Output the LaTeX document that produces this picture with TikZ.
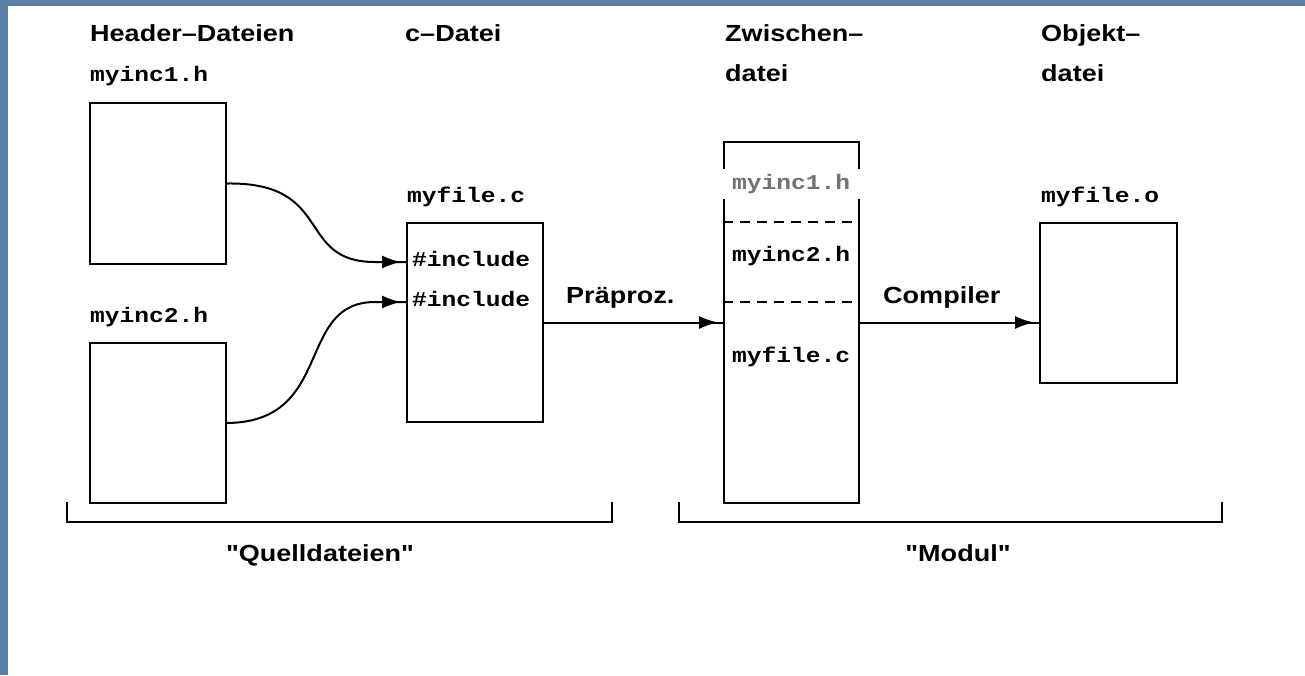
\documentclass[tikz,border=0pt]{standalone}
\usepackage{fontspec}
\setmainfont{Liberation Sans}[FakeStretch=1.16, Ligatures=TeXOff]
\newfontfamily\codefont{Liberation Mono}[FakeStretch=1.17]
\usetikzlibrary{arrows.meta,decorations.markings}
\definecolor{slideblue}{HTML}{5A7FA8}

\begin{document}
\begin{tikzpicture}[x=1pt,y=-1pt,
  box/.style={draw, line width=2pt, anchor=north west, inner sep=0pt},
  title/.style={anchor=base west, inner sep=0pt, font=\fontsize{23.3}{28}\selectfont\bfseries},
  code/.style={anchor=base west, inner sep=0pt, font=\fontsize{21}{25}\selectfont\codefont\bfseries},
  bracket/.style={line width=2pt},
  conn/.style={line width=2pt, postaction={decorate},
    decoration={markings, mark=at position -5pt with {\arrow{Latex[length=19pt,width=13pt]}}}},
  divider/.style={line width=1.8pt, dash pattern=on 10pt off 7pt}
]
\useasboundingbox (0,0) rectangle (1305,675);
% slide frame and white page
\fill[slideblue] (0,0) rectangle (1305,675);
\fill[white] (8,6) rectangle (1305,675);

% column headings
\node[title] (hHeader) at (90,41.7) {Header–Dateien};
\node[title] (hC) at (405,41.7) {c–Datei};
\node[title] (hZw1) at (725,41.7) {Zwischen–};
\node[title] (hZw2) at (725,81.7) {datei};
\node[title] (hObj1) at (1041,41.7) {Objekt–};
\node[title] (hObj2) at (1041,81.7) {datei};

% file boxes
\node[box, minimum width=136pt, minimum height=161pt] (h1) at (89,102) {};
\node[box, minimum width=136pt, minimum height=160pt] (h2) at (89,342) {};
\node[box, minimum width=136pt, minimum height=199pt] (cfile) at (406,222) {};
\node[box, minimum width=135pt, minimum height=361pt] (zw) at (723,141) {};
\node[box, minimum width=137pt, minimum height=160pt] (obj) at (1039,222) {};

% file names
\node[code] (n1) at (90,81.7) {myinc1.h};
\node[code] (n2) at (90,322.3) {myinc2.h};
\node[code] (nc) at (407,202.7) {myfile.c};
\node[code] (no) at (1041,202.7) {myfile.o};
\node[code] (inc1) at (412,266) {\#include};
\node[code] (inc2) at (412,306.7) {\#include};

% sections of the intermediate file
\draw[divider] (zw.west |- 0,221.7) -- (zw.east |- 0,221.7);
\draw[divider] (zw.west |- 0,301.7) -- (zw.east |- 0,301.7);
\node[code, anchor=west, fill=white, inner xsep=10pt, inner ysep=5pt, text=black!55] (zinc1) at (722,184) {myinc1.h};
\node[code] (zinc2) at (732,261) {myinc2.h};
\node[code] (zfile) at (732,362.3) {myfile.c};

% include connectors
\coordinate (t1) at (cfile.west |- 0,262);
\coordinate (t2) at (cfile.west |- 0,302);
\draw[conn] (h1.east) .. controls (335,182) and (295,262) .. (375,262) -- (t1);
\draw[conn] (h2.east) .. controls (335,422) and (295,302) .. (375,302) -- (t2);

% processing steps
\draw[conn] (cfile.east) -- (zw.west);
\draw[conn] (zw.east) -- (zw.east -| obj.west);
\node[title] (pp) at (566,303.3) {Präproz.};
\node[title] (cc) at (883,303.3) {Compiler};

% grouping brackets
\draw[bracket] (67,502) -- (67,522) -- (612,522) -- (612,502);
\draw[bracket] (679,502) -- (679,522) -- (1222,522) -- (1222,502);
\node[title, anchor=base] (gSrc) at (320,561.7) {"Quelldateien"};
\node[title, anchor=base] (gMod) at (958,561.7) {"Modul"};
\end{tikzpicture}
\end{document}
